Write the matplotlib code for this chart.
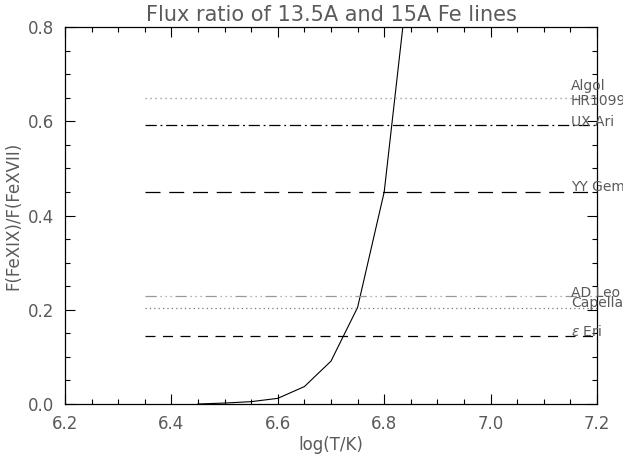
import matplotlib
matplotlib.use('Agg')
import matplotlib.pyplot as plt
from matplotlib.ticker import MultipleLocator

# model curve: Fe XIX / Fe XVII flux ratio vs temperature
logT = [6.45, 6.50, 6.55, 6.60, 6.65, 6.70, 6.75, 6.80, 6.85]
ratio = [0.0, 0.002, 0.005, 0.012, 0.037, 0.091, 0.205, 0.45, 0.95]

# observed ratios for each star
stars = ['Algol', 'HR1099', 'UX Ari', 'YY Gem', 'AD Leo', 'Capella', r'$\epsilon$ Eri']
star_ratio = [0.65, 0.65, 0.592, 0.45, 0.23, 0.204, 0.145]

xstart, xend = 6.35, 7.2
styles = [
    dict(color='#aaaaaa', ls=(0, (1, 3))),
    dict(color='#aaaaaa', ls=(0, (1, 3))),
    dict(color='black', ls=(0, (9, 3, 1.5, 3))),
    dict(color='black', ls=(0, (12, 7))),
    dict(color='#999999', ls=(0, (9, 3, 1, 3, 1, 3, 1, 3))),
    dict(color='#777777', ls=(0, (1, 2.5))),
    dict(color='black', ls=(0, (8, 6))),
]
label_dy = [0.025, -0.007, 0.006, 0.011, 0.006, 0.011, 0.008]
tcol = '#5a5a5a'

fig = plt.figure(figsize=(6.23, 4.58), dpi=100)
ax = fig.add_axes([0.1043, 0.1179, 0.8540, 0.8231])

ax.plot(logT, ratio, color='black', lw=0.8)
for i in range(len(stars)):
    ax.plot([xstart, xend], [star_ratio[i], star_ratio[i]], lw=0.9, **styles[i])
    ax.text(7.151, star_ratio[i] + label_dy[i], stars[i], color=tcol,
            fontsize=10, va='center', ha='left', clip_on=False)

ax.set_xlim(6.2, 7.2)
ax.set_ylim(0, 0.8)
ax.xaxis.set_major_locator(MultipleLocator(0.2))
ax.xaxis.set_minor_locator(MultipleLocator(0.05))
ax.yaxis.set_major_locator(MultipleLocator(0.2))
ax.yaxis.set_minor_locator(MultipleLocator(0.05))
ax.xaxis.set_major_formatter(matplotlib.ticker.FormatStrFormatter('%.1f'))
ax.yaxis.set_major_formatter(matplotlib.ticker.FormatStrFormatter('%.1f'))
ax.tick_params(which='both', direction='in', top=True, right=True,
               colors='black', labelcolor=tcol, labelsize=12, width=0.8)
ax.tick_params(which='major', length=7, pad=8)
ax.tick_params(which='minor', length=3.5)
for s in ax.spines.values():
    s.set_linewidth(0.9)

ax.set_xlabel('log(T/K)', color=tcol, fontsize=12, labelpad=2)
ax.set_ylabel('F(FeXIX)/F(FeXVII)', color=tcol, fontsize=12, labelpad=4)
ax.set_title('Flux ratio of 13.5A and 15A Fe lines', color=tcol, fontsize=15, pad=4)

fig.savefig('out.png', dpi=100)
